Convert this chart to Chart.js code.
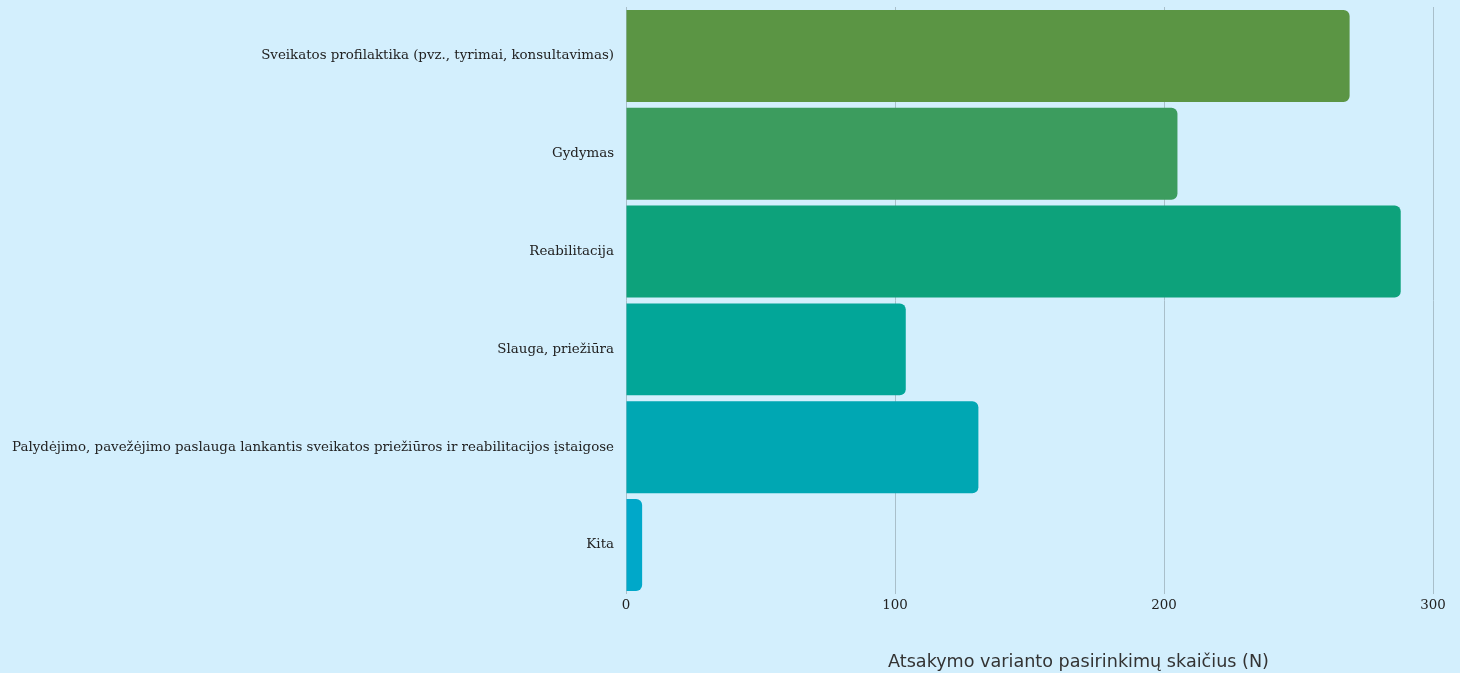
<!DOCTYPE html>
<html>
<head>
<meta charset="utf-8">
<script src="https://cdn.jsdelivr.net/npm/chart.js@4"></script>
<style>
  html, body { margin: 0; padding: 0; background: #d3effd; }
  #wrap { width: 1460px; height: 673px; }
</style>
</head>
<body>
<div id="wrap"><canvas id="myChart"></canvas></div>
<script>
  // data
  const categories = [
    'Sveikatos profilaktika (pvz., tyrimai, konsultavimas)',
    'Gydymas',
    'Reabilitacija',
    'Slauga, priežiūra',
    'Palydėjimo, pavežėjimo paslauga lankantis sveikatos priežiūros ir reabilitacijos įstaigose',
    'Kita'
  ];
  const counts = [269, 205, 288, 104, 131, 6];
  const barColors = ['#5b9544', '#3c9c5e', '#0da27b', '#02a698', '#00a7b3', '#00a8c9'];
  const xTicks = [0, 100, 200, 300];
  const axisTitle = 'Atsakymo varianto pasirinkimų skaičius (N)';

  // axis title drawn a bit right of centre, like the original
  const axisTitlePlugin = {
    id: 'axisTitle',
    afterDraw(chart) {
      const ctx = chart.ctx;
      const area = chart.chartArea;
      ctx.save();
      ctx.font = '17.6px "DejaVu Sans", sans-serif';
      ctx.fillStyle = '#333';
      ctx.textAlign = 'center';
      ctx.textBaseline = 'middle';
      ctx.fillText(axisTitle, (area.left + area.right) / 2 + 49, 662);
      ctx.restore();
    }
  };

  const config = {
    type: 'bar',
    data: {
      labels: categories,
      datasets: [{
        data: counts,
        backgroundColor: barColors,
        borderRadius: 6,
        borderSkipped: 'start',
        categoryPercentage: 1,
        barPercentage: 0.94
      }]
    },
    options: {
      indexAxis: 'y',
      responsive: false,
      animation: false,
      layout: { padding: { top: 7, left: 0, right: 27, bottom: 55 } },
      plugins: { legend: { display: false }, tooltip: { enabled: false } },
      scales: {
        x: {
          min: 0,
          max: 300,
          afterBuildTicks(axis) { axis.ticks = xTicks.map(v => ({ value: v })); },
          grid: { color: '#a9bfca', drawTicks: false },
          border: { display: false },
          ticks: {
            padding: 4,
            color: '#222',
            font: { family: '"DejaVu Serif", serif', size: 13.4 }
          }
        },
        y: {
          afterFit(axis) {
            axis.width = 626;
            axis.paddingTop = 0;
            axis.paddingBottom = 0;
          },
          grid: { display: false, drawTicks: false },
          border: { display: false },
          ticks: {
            padding: 12,
            color: '#222',
            font: { family: '"DejaVu Serif", serif', size: 13.4 }
          }
        }
      }
    },
    plugins: [axisTitlePlugin]
  };

  const canvas = document.getElementById('myChart');
  canvas.width = 1460;
  canvas.height = 673;
  const myChart = new Chart(canvas, config);
</script>
</body>
</html>
